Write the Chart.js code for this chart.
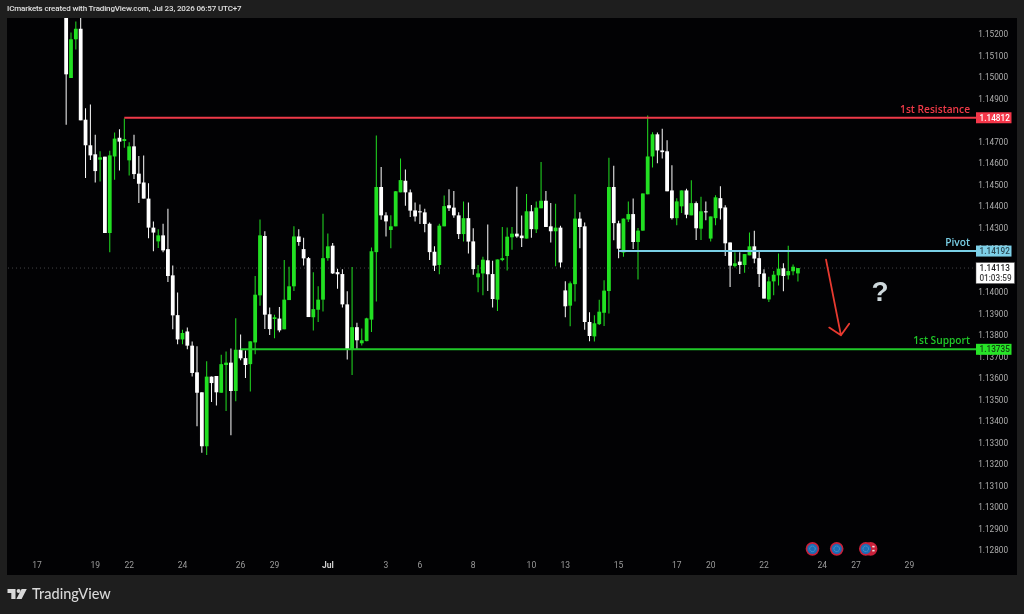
<!DOCTYPE html>
<html>
<head>
<meta charset="utf-8">
<title>EURUSD levels</title>
<script src="https://cdn.jsdelivr.net/npm/chart.js@4"></script>
<style>
  html, body { margin: 0; padding: 0; background: #1e1e1e; overflow: hidden; }
  #wrap { position: relative; width: 1024px; height: 614px; }
  canvas { position: absolute; left: 0; top: 0; }
  #header { position: absolute; left: 7px; top: 4px; color: #e0e0e0; font: 500 8px Roboto, sans-serif; letter-spacing: -0.13px; white-space: nowrap; }
  #brand { position: absolute; left: 32px; top: 585px; color: #d8d8d8; font: 500 14.5px Lato, sans-serif; white-space: nowrap; }
</style>
</head>
<body>
<div id="wrap">
  <canvas id="chart" width="1024" height="614"></canvas>
  <div id="header">ICmarkets created with TradingView.com, Jul 23, 2026 06:57 UTC+7</div>
  <div id="brand">TradingView</div>
</div>
<script>
// 4h candles
var opens = [
  1.15340,1.14997,1.15177,1.15226,1.14803,1.14684,1.14642,1.14617,1.14631,1.14276,
  1.14632,1.14719,1.14704,1.14614,1.14679,1.14552,1.14511,1.14436,1.14301,1.14237,
  1.14265,1.14201,1.14079,1.13894,1.13781,1.13818,1.13752,1.13628,1.13535,1.13284,
  1.13608,1.13611,1.13533,1.13662,1.13673,1.13541,1.13733,1.13694,1.13666,1.13767,
  1.13986,1.14262,1.13898,1.13876,1.13878,1.13828,1.13964,1.14028,1.14260,1.14201,
  1.14159,1.13884,1.13919,1.13966,1.14159,1.14217,1.14094,1.14085,1.13944,1.13733,
  1.13838,1.13763,1.13773,1.13873,1.14187,1.14490,1.14358,1.14290,1.14307,1.14465,
  1.14519,1.14465,1.14381,1.14377,1.14372,1.14319,1.14189,1.14127,1.14307,1.14405,
  1.14394,1.14358,1.14271,1.14345,1.14237,1.14070,1.14088,1.14149,1.14085,1.13966,
  1.14150,1.14169,1.14256,1.14273,1.14264,1.14250,1.14377,1.14293,1.14391,1.14426,
  1.14307,1.14284,1.14301,1.14009,1.13938,1.14038,1.14343,1.14307,1.13862,1.13795,
  1.13852,1.13905,1.14006,1.14490,1.14321,1.14185,1.14339,1.14364,1.14234,1.14287,
  1.14456,1.14632,1.14735,1.14660,1.14656,1.14474,1.14345,1.14400,1.14474,1.14358,
  1.14415,1.14296,1.14377,1.14250,1.14345,1.14438,1.14395,1.14232,1.14122,1.14143,
  1.14127,1.14172,1.14214,1.14159,1.14088,1.13967,1.14051,1.14079,1.14112,1.14079,
  1.14098,1.14088
];
var highs = [
  1.15358,1.15208,1.15260,1.15279,1.14856,1.14874,1.14733,1.14656,1.14631,1.14659,
  1.14744,1.14758,1.14808,1.14698,1.14733,1.14634,1.14636,1.14507,1.14330,1.14293,
  1.14319,1.14389,1.14125,1.13999,1.13826,1.13837,1.13771,1.13749,1.13535,1.13679,
  1.13608,1.13611,1.13710,1.13725,1.13739,1.13880,1.13804,1.13730,1.13772,1.14076,
  1.14339,1.14284,1.13929,1.13896,1.13932,1.14150,1.14119,1.14307,1.14293,1.14254,
  1.14164,1.14093,1.14028,1.14366,1.14274,1.14229,1.14110,1.14107,1.14005,1.14118,
  1.13859,1.13832,1.13882,1.14208,1.14729,1.14583,1.14372,1.14358,1.14471,1.14622,
  1.14571,1.14478,1.14418,1.14409,1.14389,1.14325,1.14214,1.14319,1.14450,1.14479,
  1.14471,1.14373,1.14422,1.14418,1.14298,1.14127,1.14166,1.14316,1.14147,1.14153,
  1.14304,1.14301,1.14304,1.14491,1.14357,1.14457,1.14406,1.14422,1.14606,1.14471,
  1.14415,1.14412,1.14310,1.14051,1.14050,1.14456,1.14373,1.14325,1.13907,1.13893,
  1.13966,1.14056,1.14626,1.14589,1.14333,1.14343,1.14422,1.14436,1.14299,1.14460,
  1.14823,1.14745,1.14743,1.14761,1.14707,1.14591,1.14438,1.14474,1.14482,1.14521,
  1.14422,1.14445,1.14423,1.14353,1.14451,1.14493,1.14405,1.14232,1.14187,1.14187,
  1.14178,1.14278,1.14287,1.14195,1.14107,1.14073,1.14099,1.14181,1.14135,1.14217,
  1.14129,1.14112
];
var lows = [
  1.14780,1.14997,1.15130,1.14800,1.14532,1.14615,1.14511,1.14516,1.14276,1.14186,
  1.14524,1.14567,1.14673,1.14543,1.14527,1.14415,1.14436,1.14252,1.14191,1.14206,
  1.14187,1.14048,1.13828,1.13758,1.13758,1.13735,1.13609,1.13377,1.13254,1.13243,
  1.13490,1.13474,1.13533,1.13448,1.13335,1.13493,1.13684,1.13601,1.13539,1.13712,
  1.13938,1.13829,1.13801,1.13787,1.13814,1.13828,1.13964,1.14006,1.14217,1.14125,
  1.13885,1.13823,1.13862,1.13911,1.14147,1.14085,1.14017,1.13930,1.13688,1.13615,
  1.13733,1.13753,1.13773,1.13815,1.13957,1.14338,1.14260,1.14205,1.14307,1.14465,
  1.14403,1.14350,1.14329,1.14318,1.14279,1.14150,1.14099,1.14084,1.14307,1.14378,
  1.14347,1.14248,1.14236,1.14181,1.14082,1.14000,1.13986,1.14006,1.13929,1.13913,
  1.14145,1.14102,1.14198,1.14254,1.14211,1.14250,1.14254,1.14276,1.14391,1.14304,
  1.14232,1.14121,1.14115,1.13884,1.13842,1.13957,1.14205,1.13826,1.13772,1.13771,
  1.13848,1.13843,1.13901,1.14242,1.14159,1.14166,1.14327,1.14201,1.14060,1.14287,
  1.14456,1.14581,1.14600,1.14623,1.14470,1.14339,1.14312,1.14369,1.14345,1.14358,
  1.14243,1.14243,1.14335,1.14237,1.14312,1.14339,1.14169,1.14025,1.14115,1.14085,
  1.14091,1.14172,1.14135,1.14025,1.13971,1.13955,1.13986,1.14032,1.14005,1.14060,
  1.14079,1.14050
];
var closes = [
  1.15014,1.15177,1.15226,1.14800,1.14684,1.14637,1.14564,1.14628,1.14276,1.14637,
  1.14715,1.14701,1.14713,1.14679,1.14550,1.14505,1.14436,1.14301,1.14278,1.14265,
  1.14195,1.14076,1.13893,1.13781,1.13811,1.13752,1.13625,1.13533,1.13284,1.13608,
  1.13578,1.13535,1.13666,1.13673,1.13541,1.13733,1.13693,1.13662,1.13772,1.13989,
  1.14265,1.13896,1.13829,1.13884,1.13823,1.13966,1.14028,1.14260,1.14234,1.14158,
  1.13885,1.13922,1.13966,1.14159,1.14214,1.14088,1.14084,1.13944,1.13735,1.13838,
  1.13777,1.13777,1.13879,1.14191,1.14490,1.14358,1.14330,1.14307,1.14470,1.14522,
  1.14465,1.14380,1.14353,1.14372,1.14318,1.14187,1.14124,1.14310,1.14401,1.14391,
  1.14358,1.14271,1.14345,1.14236,1.14108,1.14088,1.14152,1.14084,1.13969,1.14153,
  1.14159,1.14259,1.14273,1.14260,1.14252,1.14377,1.14294,1.14394,1.14426,1.14304,
  1.14284,1.14301,1.14139,1.13935,1.14042,1.14343,1.14304,1.13862,1.13797,1.13856,
  1.13910,1.14008,1.14490,1.14322,1.14203,1.14343,1.14364,1.14234,1.14287,1.14460,
  1.14632,1.14735,1.14660,1.14652,1.14470,1.14345,1.14423,1.14474,1.14361,1.14415,
  1.14298,1.14377,1.14372,1.14353,1.14442,1.14391,1.14228,1.14124,1.14135,1.14127,
  1.14178,1.14214,1.14157,1.14085,1.13971,1.14051,1.14082,1.14110,1.14076,1.14099,
  1.14119,1.14113
];

// price axis
var priceTicks = [1.152,1.151,1.150,1.149,1.148,1.147,1.146,1.145,1.144,1.143,1.142,1.141,1.140,
  1.139,1.138,1.137,1.136,1.135,1.134,1.133,1.132,1.131,1.130,1.129,1.128];
var priceMax = 1.152760;
var priceMin = 1.127876;

// time axis: slots counted from the first candle
var dateSlots = [-6,6,13,24,36,43,54,66,73,84,96,103,114,126,133,144,156,163,174];
var dateTexts = ['17','19','22','24','26','29','Jul','3','6','8','10','13','15','17','20','22','24','27','29'];
var slotsBefore = 12;
var slotsTotal = 209;

// drawn levels
var levelNames = ['1st Resistance','Pivot','1st Support'];
var levelValues = [1.14812,1.14192,1.13735];
var levelStarts = [12,114,36];
var lastPrice = 1.14113;
var countdown = '01:03:59';
var lastSlot = 188;

// news markers on the calendar row
var eventSlots = [154,159,166,165];
var eventPrice = 1.12807;

// drawn arrow and question mark, slot / price
var arrowSlots = [156.8,159.88,157.46,161.58];
var arrowPrices = [1.14152,1.13800,1.13836,1.13854];
var markSlot = 167.97;
var markPrice = 1.13998;

var GREEN = '#22e022';
var WHITE = '#ffffff';
var levelColors = ['#ef3a48','#79cfe6','#20c828'];
var badgeColors = ['#f5374a','#7dd0e8','#27e327'];
var badgeInk = ['#ffffff','#2c4a55','#123d12'];

var labels = [];
for (var i = 0; i < slotsTotal; i++) labels.push('');
dateSlots.forEach(function (s, k) { labels[s + slotsBefore] = dateTexts[k]; });

function padded(arr) {
  var out = [];
  for (var i = 0; i < slotsBefore; i++) out.push(null);
  return out.concat(arr);
}

function flatLine(value, from, to) {
  var out = [];
  for (var i = 0; i < slotsTotal; i++) {
    var s = i - slotsBefore;
    out.push(s >= from && s <= to ? value : null);
  }
  return out;
}

var wickData = padded(lows.map(function (l, k) { return [l, highs[k]]; }));
var bodyData = padded(opens.map(function (o, k) { return [o, closes[k]]; }));
var candleColors = padded(closes.map(function (c, k) { return c >= opens[k] ? GREEN : WHITE; }));

function levelDataset(k) {
  return {
    type: 'line',
    data: flatLine(levelValues[k], levelStarts[k], lastSlot),
    borderColor: levelColors[k],
    borderWidth: 2,
    pointRadius: 0,
    tension: 0,
    order: 1
  };
}

var overlay = {
  id: 'overlay',
  beforeDraw: function (chart) {
    var ctx = chart.ctx;
    ctx.save();
    ctx.fillStyle = '#020204';
    ctx.fillRect(7, 18, 1010, 557);
    ctx.restore();
  },
  afterDraw: function (chart) {
    var ctx = chart.ctx;
    var x = chart.scales.x, y = chart.scales.y;
    var px = function (s) { return x.getPixelForValue(s + slotsBefore); };
    var py = function (p) { return y.getPixelForValue(p); };
    ctx.save();

    // level names and price badges
    levelNames.forEach(function (name, k) {
      var ly = py(levelValues[k]);
      ctx.font = '600 10.2px "Open Sans", sans-serif';
      ctx.textAlign = 'right';
      ctx.textBaseline = 'alphabetic';
      ctx.fillStyle = levelColors[k];
      ctx.fillText(name, 970, ly - 5);
      ctx.fillStyle = badgeColors[k];
      ctx.fillRect(976, ly - 5.5, 35.5, 11);
      ctx.font = '500 8.2px Roboto, sans-serif';
      ctx.textAlign = 'center';
      ctx.textBaseline = 'middle';
      ctx.fillStyle = badgeInk[k];
      ctx.fillText(levelValues[k].toFixed(5), 994.7, ly + 1);
    });

    // current price box
    var cy = py(lastPrice);
    ctx.fillStyle = '#ffffff';
    ctx.fillRect(976, cy - 5.5, 38.5, 21);
    ctx.strokeStyle = '#555555';
    ctx.lineWidth = 0.5;
    ctx.strokeRect(976, cy - 5.5, 38.5, 21);
    ctx.fillStyle = '#222222';
    ctx.font = '500 8.2px Roboto, sans-serif';
    ctx.textAlign = 'center';
    ctx.textBaseline = 'middle';
    ctx.fillText(lastPrice.toFixed(5), 994.7, cy + 1);
    ctx.fillStyle = '#444444';
    ctx.fillText(countdown, 995.5, cy + 10.5);

    // red arrow
    ctx.strokeStyle = '#e83a30';
    ctx.lineWidth = 1.8;
    ctx.lineJoin = 'round';
    ctx.lineCap = 'round';
    ctx.beginPath();
    ctx.moveTo(px(arrowSlots[0]), py(arrowPrices[0]));
    ctx.lineTo(px(arrowSlots[1]), py(arrowPrices[1]));
    ctx.moveTo(px(arrowSlots[2]), py(arrowPrices[2]));
    ctx.lineTo(px(arrowSlots[1]), py(arrowPrices[1]));
    ctx.lineTo(px(arrowSlots[3]), py(arrowPrices[3]));
    ctx.stroke();

    // question mark
    ctx.fillStyle = '#ced8dc';
    ctx.font = 'bold 28px "Liberation Sans", sans-serif';
    ctx.textAlign = 'center';
    ctx.textBaseline = 'middle';
    ctx.fillText('?', px(markSlot), py(markPrice) + 1);

    // news markers, the last one sits on top of a second one
    eventSlots.forEach(function (s, k) {
      var ex = px(s), ey = py(eventPrice);
      ctx.beginPath();
      ctx.arc(ex, ey, 6.8, 0, Math.PI * 2);
      ctx.fillStyle = '#c9203a';
      ctx.fill();
      if (k === 2) {
        ctx.fillStyle = '#f2dede';
        ctx.fillRect(ex + 1.5, ey - 3, 2.5, 1.6);
        ctx.fillRect(ex + 1.5, ey + 1, 2.5, 1.6);
        return;
      }
      ctx.beginPath();
      ctx.arc(ex, ey, 5.2, 0, Math.PI * 2);
      ctx.fillStyle = '#1c6db5';
      ctx.fill();
      ctx.beginPath();
      ctx.arc(ex, ey, 2.8, 0, Math.PI * 2);
      ctx.strokeStyle = '#5f9fce';
      ctx.lineWidth = 0.7;
      ctx.setLineDash([1, 1.2]);
      ctx.stroke();
      ctx.setLineDash([]);
    });

    // TradingView logo
    ctx.fillStyle = '#d8d8d8';
    ctx.beginPath();
    ctx.moveTo(7.5, 589); ctx.lineTo(15.5, 589); ctx.lineTo(15.5, 599); ctx.lineTo(11.3, 599);
    ctx.lineTo(11.3, 593); ctx.lineTo(7.5, 593); ctx.closePath();
    ctx.moveTo(21.6, 589); ctx.lineTo(26.8, 589); ctx.lineTo(21.6, 599); ctx.lineTo(16.4, 599);
    ctx.closePath();
    ctx.fill();
    ctx.beginPath();
    ctx.arc(18.6, 591, 2, 0, Math.PI * 2);
    ctx.fill();

    ctx.restore();
  }
};

new Chart(document.getElementById('chart'), {
  type: 'bar',
  data: {
    labels: labels,
    datasets: [
      {
        type: 'line',
        data: flatLine(lastPrice, -slotsBefore, lastSlot),
        borderColor: 'rgba(170,170,170,0.4)',
        borderWidth: 1,
        borderDash: [1, 3],
        pointRadius: 0,
        order: 5
      },
      {
        data: wickData,
        backgroundColor: candleColors,
        barThickness: 1,
        borderWidth: 0,
        inflateAmount: 0,
        grouped: false,
        order: 4
      },
      {
        data: bodyData,
        backgroundColor: candleColors,
        barThickness: 3.8,
        minBarLength: 1,
        borderWidth: 0,
        inflateAmount: 0,
        grouped: false,
        order: 3
      },
      levelDataset(0),
      levelDataset(1),
      levelDataset(2)
    ]
  },
  options: {
    responsive: false,
    animation: false,
    layout: { padding: { left: 7.08, right: 7.7, top: 18, bottom: 39 } },
    plugins: { legend: { display: false }, tooltip: { enabled: false } },
    scales: {
      x: {
        offset: false,
        grid: { display: false, drawTicks: false },
        border: { display: false },
        afterFit: function (scale) { scale.height = 22; },
        ticks: {
          autoSkip: false,
          maxRotation: 0,
          padding: 8,
          color: function (c) { return c.tick.label === 'Jul' ? '#d0d0d0' : '#9c9c9c'; },
          font: function (c) {
            return { family: 'Roboto', size: 8.5, weight: c.tick.label === 'Jul' ? 'bold' : 'normal' };
          }
        }
      },
      y: {
        position: 'right',
        min: priceMin,
        max: priceMax,
        afterFit: function (scale) { scale.width = 0; },
        afterBuildTicks: function (scale) {
          scale.ticks = priceTicks.map(function (v) { return { value: v }; });
        },
        grid: { display: false, drawTicks: false },
        border: { display: false },
        ticks: {
          mirror: true,
          padding: -8,
          labelOffset: 1,
          color: '#aeaeae',
          font: { family: 'Roboto', size: 8.2 },
          callback: function (v) { return Number(v).toFixed(5); }
        }
      }
    }
  },
  plugins: [overlay]
});
</script>
</body>
</html>
